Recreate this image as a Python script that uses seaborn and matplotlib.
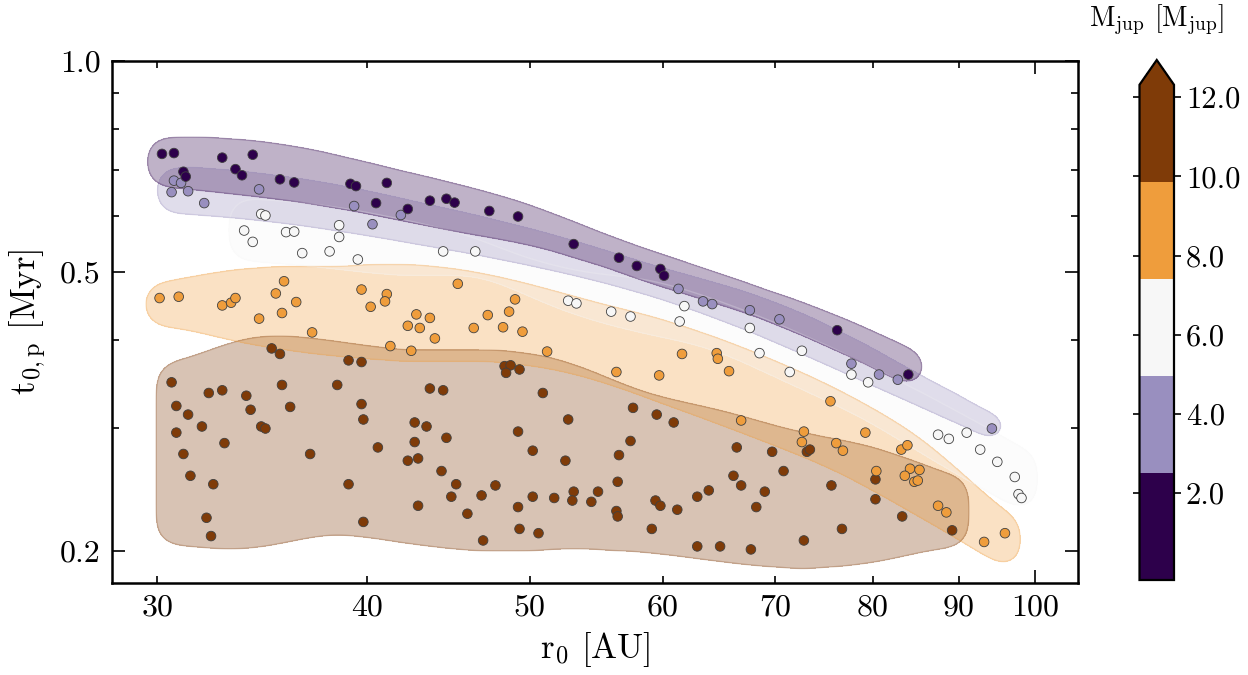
import numpy as np
import pandas as pd
import seaborn as sns
import matplotlib.pyplot as plt
from matplotlib.colors import ListedColormap, BoundaryNorm
from matplotlib.cm import ScalarMappable

plt.rcParams['font.family'] = 'serif'
plt.rcParams['font.serif'] = ['cmr10', 'DejaVu Serif']
plt.rcParams['mathtext.fontset'] = 'cm'
plt.rcParams['axes.formatter.use_mathtext'] = True

# r0 [AU] and t0,p [Myr] per mass bin
r0_m2 = [30.2, 30.7, 31.1, 31.2, 32.8, 33.4, 33.7, 34.2, 35.5, 36.2, 39.1, 39.4, 41.1, 40.5,
         42.3, 43.6, 44.6, 45.1, 47.3, 49.2, 53.1, 56.5, 57.9, 59.8, 60.1, 76.2, 84.0]
t0_m2 = [0.737, 0.739, 0.695, 0.684, 0.728, 0.701, 0.687, 0.735, 0.678, 0.671, 0.668, 0.663,
         0.670, 0.627, 0.615, 0.632, 0.636, 0.628, 0.611, 0.600, 0.548, 0.524, 0.510, 0.505,
         0.494, 0.413, 0.357]

r0_m4 = [30.7, 31.0, 30.6, 31.3, 32.0, 34.5, 39.3, 40.3, 41.9, 61.3, 63.4, 64.2, 67.6, 70.4,
         77.7, 80.7, 82.8, 94.2]
t0_m4 = [0.675, 0.670, 0.650, 0.652, 0.627, 0.656, 0.621, 0.585, 0.603, 0.473, 0.454, 0.450,
         0.441, 0.428, 0.370, 0.357, 0.351, 0.299]

r0_m6 = [34.6, 34.8, 33.8, 34.2, 35.8, 36.2, 38.5, 38.5, 36.6, 38.0, 39.5, 44.4, 46.4, 52.7,
         53.3, 55.9, 57.4, 61.8, 61.4, 67.6, 68.5, 72.6, 71.4, 77.7, 79.5, 87.5, 88.8, 91.0,
         92.7, 94.9, 97.2, 97.7, 98.1]
t0_m6 = [0.605, 0.602, 0.573, 0.552, 0.570, 0.571, 0.583, 0.561, 0.532, 0.535, 0.521, 0.535,
         0.535, 0.455, 0.451, 0.439, 0.432, 0.447, 0.425, 0.416, 0.383, 0.386, 0.360, 0.357,
         0.348, 0.293, 0.289, 0.295, 0.279, 0.268, 0.255, 0.241, 0.238]

r0_m8 = [30.1, 30.9, 32.8, 33.2, 33.4, 34.5, 35.7, 35.3, 36.3, 35.6, 37.1, 39.7, 41.1, 41.0,
         40.2, 42.8, 43.6, 42.3, 43.0, 43.9, 41.3, 42.5, 45.3, 49.0, 48.6, 47.2, 46.3, 48.2,
         49.5, 51.2, 56.3, 59.7, 61.6, 64.6, 64.7, 65.7, 75.5, 72.8, 72.6, 76.1, 76.8, 79.2,
         83.2, 83.9, 80.4, 84.2, 85.3, 83.6, 84.7, 85.1, 87.5, 88.5, 93.2, 95.9, 66.8]
t0_m8 = [0.459, 0.461, 0.448, 0.452, 0.459, 0.429, 0.485, 0.466, 0.453, 0.437, 0.410, 0.472,
         0.465, 0.454, 0.446, 0.435, 0.430, 0.419, 0.416, 0.402, 0.392, 0.386, 0.481, 0.457,
         0.439, 0.434, 0.416, 0.417, 0.411, 0.385, 0.360, 0.356, 0.382, 0.383, 0.376, 0.361,
         0.327, 0.296, 0.286, 0.285, 0.278, 0.295, 0.279, 0.283, 0.260, 0.262, 0.261, 0.256,
         0.251, 0.252, 0.232, 0.227, 0.206, 0.212, 0.307]

r0_m10 = [35.1, 35.5, 39.0, 39.7, 30.6, 32.2, 32.8, 33.9, 35.6, 38.4, 43.6, 30.8, 34.1, 36.0,
          39.7, 31.3, 30.8, 31.9, 34.6, 34.8, 32.9, 31.1, 37.0, 39.8, 42.7, 43.4, 42.7, 40.6,
          42.3, 42.9, 44.3, 31.4, 32.4, 39.0, 32.1, 32.3, 39.8, 42.9, 44.6, 45.2, 44.9, 45.9,
          46.9, 46.8, 47.7, 49.2, 50.2, 52.7, 52.5, 49.2, 50.2, 49.3, 50.6, 51.7, 53.1, 53.0,
          54.4, 54.9, 56.4, 56.5, 57.4, 57.6, 59.5, 60.9, 56.3, 56.4, 59.4, 59.8, 61.2, 59.1,
          62.9, 63.9, 66.4, 66.1, 66.8, 68.2, 62.9, 64.9, 67.7, 69.7, 70.8, 69.0, 73.1, 73.4,
          75.6, 80.3, 80.3, 76.7, 72.8, 83.3, 89.2, 48.3, 48.7, 48.4, 49.3, 44.4, 50.9]
t0_m10 = [0.389, 0.382, 0.374, 0.372, 0.348, 0.336, 0.339, 0.333, 0.345, 0.345, 0.341, 0.322,
          0.318, 0.321, 0.324, 0.313, 0.295, 0.301, 0.301, 0.299, 0.285, 0.275, 0.275, 0.308,
          0.305, 0.301, 0.286, 0.281, 0.269, 0.271, 0.260, 0.256, 0.249, 0.249, 0.223, 0.210,
          0.220, 0.232, 0.290, 0.249, 0.239, 0.226, 0.207, 0.240, 0.248, 0.296, 0.278, 0.308,
          0.269, 0.231, 0.239, 0.215, 0.212, 0.238, 0.243, 0.236, 0.235, 0.243, 0.251, 0.274,
          0.287, 0.320, 0.313, 0.305, 0.228, 0.224, 0.236, 0.232, 0.229, 0.215, 0.239, 0.244,
          0.281, 0.256, 0.248, 0.231, 0.203, 0.203, 0.201, 0.277, 0.260, 0.243, 0.277, 0.279,
          0.248, 0.253, 0.237, 0.215, 0.207, 0.224, 0.214, 0.367, 0.368, 0.359, 0.363, 0.339,
          0.336]

mass_bins = ['2', '4', '6', '8', '10']
cbar_edges = [-0.19, 2.52, 4.96, 7.41, 9.86, 12.31]
cbar_ticks = [2, 4, 6, 8, 10, 12]
x_minor = [30, 40, 50, 60, 70, 80, 90]
y_major = [0.2, 0.5, 1.0]

groups = [(r0_m2, t0_m2), (r0_m4, t0_m4), (r0_m6, t0_m6), (r0_m8, t0_m8), (r0_m10, t0_m10)]
pal = plt.get_cmap('PuOr_r', 5)
colors = [pal(i) for i in range(5)]

df = pd.concat([pd.DataFrame({'r0': r, 't0p': t, 'mass': m})
                for (r, t), m in zip(groups, mass_bins)][::-1], ignore_index=True)

fig = plt.figure(figsize=(12.48, 6.75), dpi=100)
ax = fig.add_axes([112 / 1248, 1 - 583 / 675, 966 / 1248, 522 / 675])
ax.set_xscale('log')
ax.set_yscale('log')
ax.set_xlim(28.2, 106)
ax.set_ylim(0.18, 1.0)


def gsmooth(a, sig, axis=-1):
    k = np.arange(-3 * sig, 3 * sig + 1, 2.0)
    k = np.exp(-0.5 * (k / sig) ** 2)
    k /= k.sum()
    return np.apply_along_axis(lambda r: np.convolve(r, k, mode='same'), axis, a)


def blob(ax, x, y, color, sig=11.0, level=0.25, pad=6.0, ext=8.0, nwin=10, usm=28.0):
    # smooth band round one group: centre line + local spread, in display pixels
    p = ax.transData.transform(np.column_stack([x, y]))
    u, v = p[:, 0], p[:, 1]
    umin, umax = u.min(), u.max()
    pc = np.polyfit(u, v, 2)
    res = v - np.polyval(pc, u)
    win = (umax - umin) / nwin
    cu, hi, lo = [], [], []
    for c in np.linspace(umin, umax, nwin + 1):
        m = np.abs(u - c) <= win
        if m.any():
            cu.append(c)
            hi.append(res[m].max())
            lo.append(res[m].min())
    marg = 4 * sig + ext + pad
    gu = np.arange(umin - marg, umax + marg, 2.0)
    gv = np.arange(v.min() - 150, v.max() + 150, 2.0)
    ucl = np.clip(gu, umin, umax)
    n = int(3 * usm / 2) + 1
    hs = gsmooth(np.pad(np.maximum(np.interp(ucl, cu, hi), 0), n, mode='edge'), usm)[n:-n]
    ls = gsmooth(np.pad(np.minimum(np.interp(ucl, cu, lo), 0), n, mode='edge'), usm)[n:-n]
    cen = np.polyval(pc, ucl)
    top = (cen + hs + pad)[None, :]
    bot = (cen + ls - pad)[None, :]
    inside_u = ((gu >= umin - ext) & (gu <= umax + ext))[None, :]
    core = inside_u & (gv[:, None] <= top) & (gv[:, None] >= bot)
    f = gsmooth(gsmooth(core.astype(float), sig, 1), sig, 0)
    inv = ax.transData.inverted()
    dx = inv.transform(np.column_stack([gu, np.full_like(gu, gv[0])]))[:, 0]
    dy = inv.transform(np.column_stack([np.full_like(gv, gu[0]), gv]))[:, 1]
    ax.contourf(dx, dy, f, levels=[level, 2], colors=[color], alpha=0.3)
    ax.contour(dx, dy, f, levels=[level], colors=[color], alpha=0.25, linewidths=1.0)


for (r, t), c in list(zip(groups, colors))[::-1]:
    blob(ax, r, t, c)

sns.scatterplot(data=df, x='r0', y='t0p', hue='mass', palette=dict(zip(mass_bins, colors)),
                s=48, edgecolor='0.25', linewidth=0.6, legend=False, ax=ax, zorder=3)

ax.set_xlim(28.2, 106)
ax.set_ylim(0.18, 1.0)
ax.set_xticks([100], ['100'])
ax.set_xticks(x_minor, [str(v) for v in x_minor], minor=True)
ax.set_yticks(y_major, ['%.1f' % v for v in y_major])
ax.set_yticks([0.3, 0.4, 0.6, 0.7, 0.8, 0.9], [], minor=True)
ax.tick_params(which='both', direction='in', top=True, right=True, labelsize=23,
               width=1.2, pad=8)
ax.tick_params(which='major', length=9.5)
ax.tick_params(which='minor', length=4.7)
for s in ax.spines.values():
    s.set_linewidth(1.8)
ax.set_xlabel(r'r$_0$ [AU]', fontsize=25, labelpad=6)
ax.set_ylabel(r't$_{0,\mathrm{p}}$ [Myr]', fontsize=25, labelpad=8)

cax = fig.add_axes([1139.5 / 1248, 1 - 580 / 675, 34.5 / 1248, 520 / 675])
cm_list = ListedColormap(colors)
cm_list.set_over(colors[-1])
sm = ScalarMappable(norm=BoundaryNorm(cbar_edges, 5), cmap=cm_list)
cb = fig.colorbar(sm, cax=cax, extend='max', spacing='proportional', ticks=cbar_ticks,
                  format='%.1f')
cb.outline.set_linewidth(1.6)
cax.minorticks_off()
cax.tick_params(which='both', direction='out', left=True, right=True, labelleft=False,
                labelright=True, length=5, width=1.2, labelsize=22)
fig.text(1157 / 1248, 1 - 20 / 675, r'M$_\mathrm{jup}$ [M$_\mathrm{jup}$]', fontsize=20,
         ha='center', va='center')

fig.savefig('out.png', dpi=100)
